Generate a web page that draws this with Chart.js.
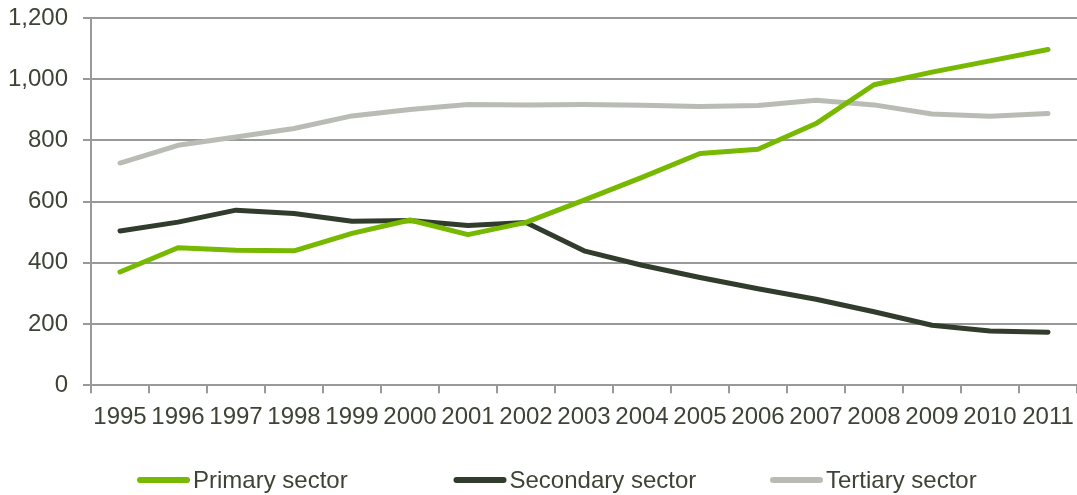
<!DOCTYPE html>
<html>
<head>
<meta charset="utf-8">
<script src="https://cdn.jsdelivr.net/npm/chart.js@4/dist/chart.umd.min.js"></script>
<style>
  html, body { margin: 0; padding: 0; background: #fff; }
  #wrap { width: 1077px; height: 495px; }
</style>
</head>
<body>
<div id="wrap"><canvas id="chart" width="1077" height="495"></canvas></div>
<script>
const years = ['1995', '1996', '1997', '1998', '1999', '2000', '2001', '2002', '2003',
  '2004', '2005', '2006', '2007', '2008', '2009', '2010', '2011'];
const primary = [370, 449, 441, 439, 496, 540, 492, 532, 605, 679, 757, 771, 855, 982, 1023, 1060, 1097];
const secondary = [504, 533, 572, 561, 536, 538, 522, 532, 439, 392, 352, 315, 281, 240, 196, 177, 173];
const tertiary = [726, 784, 811, 839, 880, 901, 917, 916, 917, 915, 911, 914, 931, 916, 886, 879, 888];
const yTicks = [0, 200, 400, 600, 800, 1000, 1200];

const textColor = '#3d4436';
const gridColor = '#999999';
const fontFamily = '"Liberation Sans", Arial, sans-serif';

Chart.defaults.font.family = fontFamily;
Chart.defaults.font.size = 24;
Chart.defaults.color = textColor;

const lineStyle = (color) => ({
  borderColor: color,
  backgroundColor: color,
  borderWidth: 5,
  pointRadius: 0,
  pointHoverRadius: 0,
  tension: 0,
  borderCapStyle: 'round',
  borderJoinStyle: 'round',
  fill: false
});

// legend row under the axis: short thick line + label, items on a fixed pitch
const legendRow = {
  id: 'legendRow',
  afterDraw(chart, args, opts) {
    const ctx = chart.ctx;
    ctx.save();
    ctx.font = `24px ${fontFamily}`;
    ctx.textBaseline = 'middle';
    ctx.textAlign = 'left';
    chart.data.datasets.forEach((ds, i) => {
      const x = opts.left + i * opts.pitch;
      ctx.strokeStyle = ds.borderColor;
      ctx.lineWidth = 6;
      ctx.lineCap = 'round';
      ctx.beginPath();
      ctx.moveTo(x + 3, opts.y);
      ctx.lineTo(x + opts.lineLength - 3, opts.y);
      ctx.stroke();
      ctx.fillStyle = textColor;
      ctx.fillText(ds.label, x + opts.lineLength + 3, opts.y + 1);
    });
    ctx.restore();
  }
};

new Chart(document.getElementById('chart'), {
  type: 'line',
  data: {
    labels: years,
    datasets: [
      { label: 'Primary sector', data: primary, ...lineStyle('#77b900') },
      { label: 'Secondary sector', data: secondary, ...lineStyle('#323c2c') },
      { label: 'Tertiary sector', data: tertiary, ...lineStyle('#b9bcb4') }
    ]
  },
  plugins: [legendRow],
  options: {
    responsive: false,
    animation: false,
    layout: { padding: { top: 18, right: 0, bottom: 53, left: 0 } },
    scales: {
      x: {
        offset: true,
        afterFit: (scale) => { scale.paddingLeft = 0; scale.paddingRight = 0; },
        grid: {
          offset: true,
          drawOnChartArea: false,
          drawTicks: true,
          tickLength: 8,
          color: gridColor,
          lineWidth: 2
        },
        border: { display: true, color: gridColor, width: 2 },
        ticks: { padding: 10, maxRotation: 0, autoSkip: false }
      },
      y: {
        min: 0,
        max: 1200,
        afterBuildTicks: (scale) => { scale.ticks = yTicks.map(v => ({ value: v })); },
        afterFit: (scale) => { scale.width = 91; scale.paddingTop = 0; scale.paddingBottom = 0; },
        grid: {
          color: gridColor,
          lineWidth: 2,
          tickLength: 8
        },
        border: { display: true, color: gridColor, width: 2 },
        ticks: { padding: 15 }
      }
    },
    plugins: {
      tooltip: { enabled: false },
      legend: { display: false },
      legendRow: { left: 137, pitch: 316.5, lineLength: 53, y: 480 }
    }
  }
});
</script>
</body>
</html>
